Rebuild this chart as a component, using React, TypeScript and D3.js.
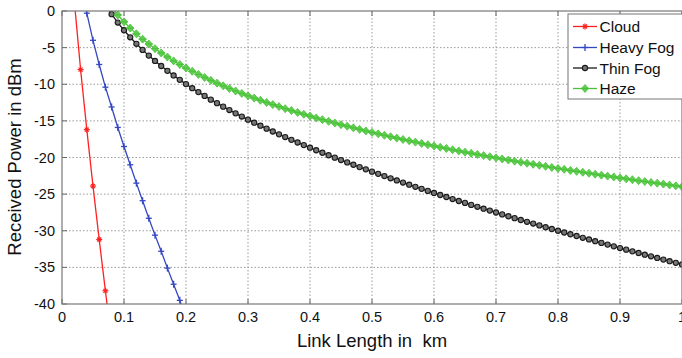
import React from "react";
import * as d3 from "d3";

const W = 682;
const H = 358;

const xTicks = [0, 0.1, 0.2, 0.3, 0.4, 0.5, 0.6, 0.7, 0.8, 0.9, 1];
const yTicks = [0, -5, -10, -15, -20, -25, -30, -35, -40];

const cloudX = [0.01, 0.02, 0.03, 0.04, 0.05, 0.06, 0.07, 0.08];
const cloudY = [13.0, 1.2, -8.0, -16.2, -23.9, -31.2, -38.2, -45.1];

const heavyX = [0.03, 0.04, 0.05, 0.06, 0.07, 0.08, 0.09, 0.1, 0.11, 0.12, 0.13, 0.14, 0.15, 0.16, 0.17, 0.18, 0.19, 0.2];
const heavyY = [3.9, -0.3, -4.0, -7.3, -10.4, -13.1, -15.9, -18.5, -21.0, -23.5, -25.9, -28.3, -30.6, -32.8, -35.1, -37.3, -39.5, -42.1];

const thinX0 = 0.07;
const thinY = [
  0.87, -0.43, -1.58, -2.63, -3.59, -4.48, -5.31, -6.09, -6.82, -7.51,
  -8.17, -8.8, -9.4, -9.98, -10.54, -11.07, -11.59, -12.1, -12.58, -13.06,
  -13.52, -13.97, -14.41, -14.83, -15.25, -15.66, -16.06, -16.45, -16.84, -17.21,
  -17.59, -17.95, -18.31, -18.66, -19.01, -19.35, -19.69, -20.02, -20.35, -20.67,
  -20.99, -21.31, -21.62, -21.93, -22.23, -22.54, -22.84, -23.13, -23.42, -23.71,
  -24.0, -24.28, -24.56, -24.84, -25.12, -25.39, -25.67, -25.94, -26.2, -26.47,
  -26.73, -26.99, -27.25, -27.51, -27.77, -28.02, -28.28, -28.53, -28.78, -29.02,
  -29.27, -29.52, -29.76, -30.0, -30.24, -30.48, -30.72, -30.96, -31.19, -31.43,
  -31.66, -31.89, -32.13, -32.36, -32.58, -32.81, -33.04, -33.27, -33.49, -33.71,
  -33.94, -34.16, -34.38, -34.6,
];

const hazeX0 = 0.08;
const hazeY = [
  0.52, -0.54, -1.48, -2.33, -3.12, -3.84, -4.51, -5.14, -5.73, -6.28,
  -6.81, -7.3, -7.78, -8.23, -8.66, -9.07, -9.47, -9.85, -10.22, -10.58,
  -10.92, -11.25, -11.58, -11.89, -12.19, -12.49, -12.78, -13.05, -13.33, -13.59,
  -13.85, -14.11, -14.35, -14.6, -14.83, -15.06, -15.29, -15.52, -15.73, -15.95,
  -16.16, -16.37, -16.57, -16.77, -16.97, -17.16, -17.35, -17.54, -17.72, -17.9,
  -18.08, -18.26, -18.43, -18.6, -18.77, -18.94, -19.1, -19.27, -19.43, -19.59,
  -19.74, -19.9, -20.05, -20.2, -20.35, -20.5, -20.64, -20.79, -20.93, -21.07,
  -21.21, -21.35, -21.49, -21.62, -21.76, -21.89, -22.02, -22.15, -22.28, -22.41,
  -22.54, -22.66, -22.79, -22.91, -23.03, -23.16, -23.28, -23.4, -23.51, -23.63,
  -23.75, -23.87, -23.98,
];

const seriesNames = ["Cloud", "Heavy Fog", "Thin Fog", "Haze"];

type Pt = [number, number];

const FONT = "'Liberation Sans', Arial, sans-serif";

function Marker({ kind, x, y }: { kind: string; x: number; y: number }) {
  if (kind === "star") {
    return (
      <g stroke="#ff2020" strokeWidth={1.2}>
        <line x1={x - 3} y1={y} x2={x + 3} y2={y} />
        <line x1={x} y1={y - 3} x2={x} y2={y + 3} />
        <line x1={x - 2} y1={y - 2} x2={x + 2} y2={y + 2} />
        <line x1={x - 2} y1={y + 2} x2={x + 2} y2={y - 2} />
      </g>
    );
  }
  if (kind === "plus") {
    return (
      <g stroke="#3347c2" strokeWidth={1.3}>
        <line x1={x - 3} y1={y} x2={x + 3} y2={y} />
        <line x1={x} y1={y - 3.5} x2={x} y2={y + 3.5} />
      </g>
    );
  }
  if (kind === "circle") {
    return <circle cx={x} cy={y} r={2.6} fill="#777" stroke="#1a1a1a" strokeWidth={1.1} />;
  }
  return (
    <g>
      <path d={`M${x},${y - 4}L${x + 3.5},${y}L${x},${y + 4}L${x - 3.5},${y}Z`} fill="#5fd04f" stroke="#4cc03c" strokeWidth={0.8} />
      <line x1={x - 4} y1={y} x2={x + 4} y2={y} stroke="#4cc03c" strokeWidth={1.2} />
    </g>
  );
}

export default function App() {
  const left = 62;
  const right = 682;
  const top = 11;
  const bottom = 304;

  const x = d3.scaleLinear().domain([0, 1]).range([left, right]);
  const y = d3.scaleLinear().domain([-40, 0]).range([bottom, top]);

  const cloud: Pt[] = cloudX.map((v, i) => [v, cloudY[i]]);
  const heavy: Pt[] = heavyX.map((v, i) => [v, heavyY[i]]);
  const thin: Pt[] = thinY.map((v, i) => [+(thinX0 + i * 0.01).toFixed(2), v]);
  const haze: Pt[] = hazeY.map((v, i) => [+(hazeX0 + i * 0.01).toFixed(2), v]);

  const line = d3
    .line<Pt>()
    .x((d) => x(d[0]))
    .y((d) => y(d[1]));

  const series = [
    { name: seriesNames[0], data: cloud, color: "#ff2020", marker: "star" },
    { name: seriesNames[1], data: heavy, color: "#3347c2", marker: "plus" },
    { name: seriesNames[2], data: thin, color: "#1a1a1a", marker: "circle" },
    { name: seriesNames[3], data: haze, color: "#4cc03c", marker: "diamond" },
  ];

  const inside = (d: Pt) => d[1] <= 0.3 && d[1] >= -40.3 && d[0] <= 1.001;

  const fmt = (v: number) => (v === 0 ? "0" : v === 1 ? "1" : v.toFixed(1));

  const legX = 568;
  const legY = 14;
  const legRows = [26.5, 47.5, 68, 88.5];

  return (
    <div style={{ position: "fixed", left: 0, top: 0, width: W, height: H, background: "#fff" }}>
      <svg width={W} height={H} style={{ display: "block" }}>
        <defs>
          <clipPath id="plotClip">
            <rect x={left} y={top} width={right - left} height={bottom - top} />
          </clipPath>
        </defs>
        <rect x={0} y={0} width={W} height={H} fill="#fff" />
        {/* grid */}
        <g stroke="#9a9a9a" strokeWidth={1} strokeDasharray="1.5,2">
          {xTicks.slice(1, -1).map((t) => (
            <line key={"gx" + t} x1={x(t)} x2={x(t)} y1={top} y2={bottom} />
          ))}
          {yTicks.slice(1, -1).map((t) => (
            <line key={"gy" + t} x1={left} x2={right} y1={y(t)} y2={y(t)} />
          ))}
        </g>
        {/* ticks */}
        <g stroke="#666" strokeWidth={1}>
          {xTicks.map((t) => (
            <g key={"tx" + t}>
              <line x1={x(t)} x2={x(t)} y1={bottom} y2={bottom - 5} />
              <line x1={x(t)} x2={x(t)} y1={top} y2={top + 5} />
            </g>
          ))}
          {yTicks.map((t) => (
            <line key={"ty" + t} x1={left} x2={left + 5} y1={y(t)} y2={y(t)} />
          ))}
        </g>
        {/* series */}
        <g clipPath="url(#plotClip)">
          {series.map((s) => (
            <path key={s.name} d={line(s.data) || ""} fill="none" stroke={s.color} strokeWidth={1.3} />
          ))}
          {series.map((s) =>
            s.data.filter(inside).map((d, i) => (
              <Marker key={s.name + i} kind={s.marker} x={x(d[0])} y={y(d[1])} />
            ))
          )}
        </g>
        {/* frame */}
        <rect x={left} y={top} width={right - left} height={bottom - top} fill="none" stroke="#777" strokeWidth={1.2} />
        {/* tick labels */}
        <g fontFamily={FONT} fontSize={14.5} fill="#111">
          {xTicks.map((t) => (
            <text key={"lx" + t} x={x(t)} y={322} textAnchor="middle">
              {fmt(t)}
            </text>
          ))}
          {yTicks.map((t) => (
            <text key={"ly" + t} x={55} y={y(t) + 5} textAnchor="end">
              {t === 0 ? "0" : String(t)}
            </text>
          ))}
        </g>
        {/* axis labels */}
        <text x={372} y={347} textAnchor="middle" fontFamily={FONT} fontSize={18.5} fill="#111" style={{ whiteSpace: "pre" }}>
          {"Link Length in  km"}
        </text>
        <text
          transform={`translate(21,157) rotate(-90)`}
          textAnchor="middle"
          fontFamily={FONT}
          fontSize={18.5}
          fill="#111"
        >
          Received Power in dBm
        </text>
        {/* legend */}
        <rect x={legX} y={legY} width={130} height={85} fill="#fff" stroke="#777" strokeWidth={1} />
        {series.map((s, i) => (
          <g key={"leg" + s.name}>
            <line x1={573} x2={597} y1={legRows[i]} y2={legRows[i]} stroke={s.color} strokeWidth={1.3} />
            <Marker kind={s.marker} x={585} y={legRows[i]} />
            <text x={599.5} y={legRows[i] + 5.5} fontFamily={FONT} fontSize={15.5} fill="#111">
              {s.name}
            </text>
          </g>
        ))}
      </svg>
    </div>
  );
}
